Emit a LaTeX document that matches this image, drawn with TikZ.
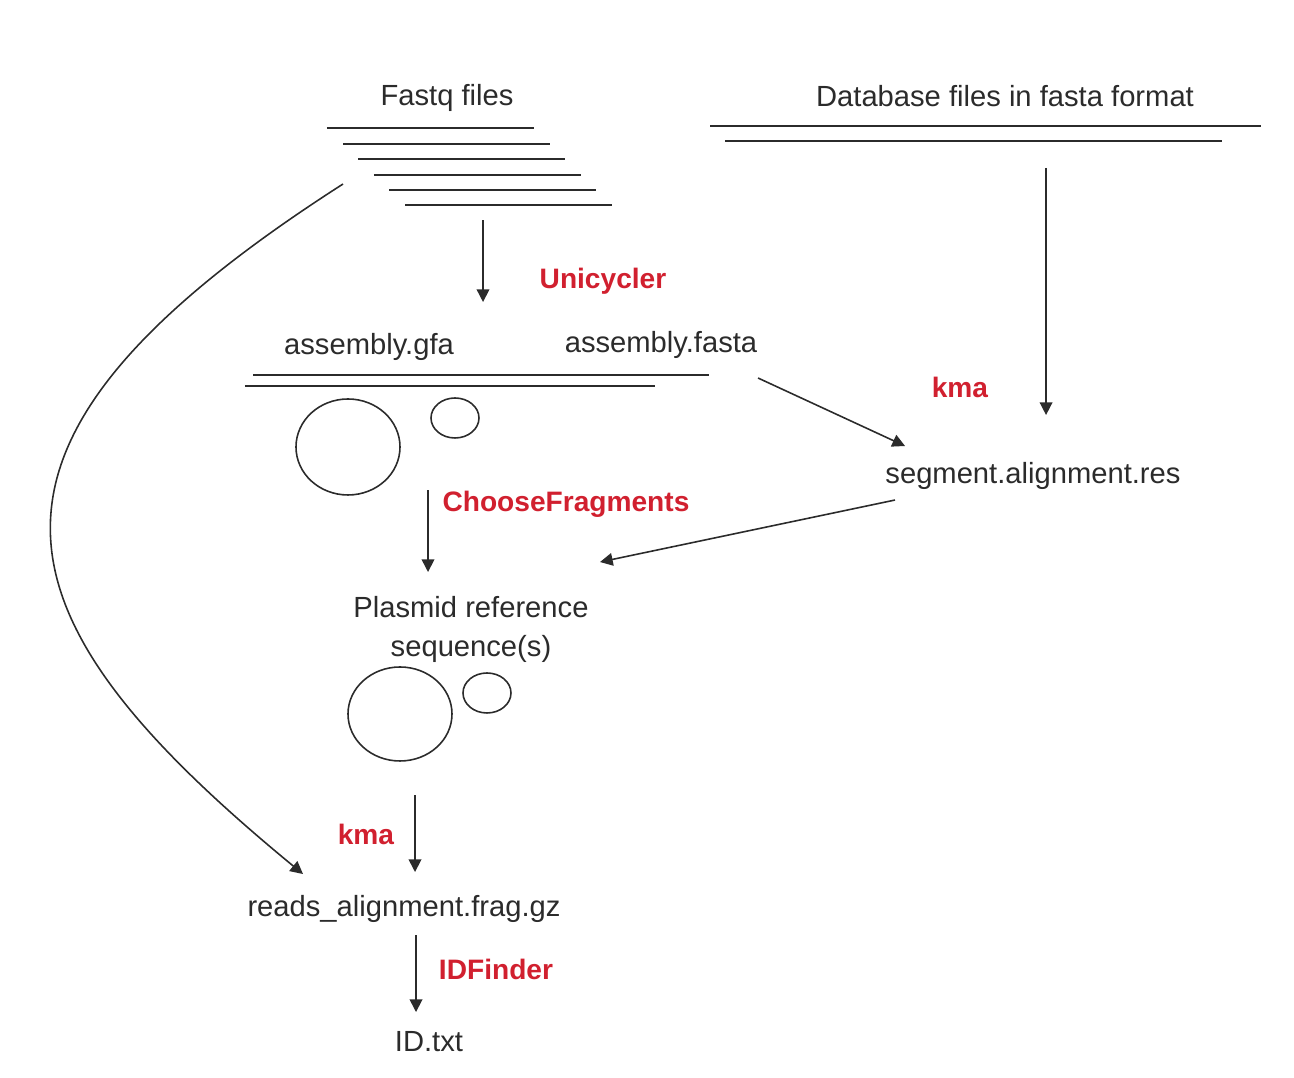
\documentclass[tikz,border=0pt]{standalone}
\usepackage{fontspec}
\setmainfont{Liberation Sans}
\usepackage{xcolor}
\usetikzlibrary{arrows.meta,positioning,calc}
\definecolor{toolred}{HTML}{D1202F}
\definecolor{ink}{HTML}{2B2B2B}

\begin{document}
\begin{tikzpicture}[scale=0.1,
  every node/.style={inner sep=0pt, text=ink},
  file/.style={font=\fontsize{8.3}{11.1}\selectfont},
  tool/.style={font=\fontsize{8}{10}\selectfont\bfseries, text=toolred},
  seq/.style={draw=ink, line width=0.45pt},
  ring/.style={draw=ink, line width=0.45pt},
  arr/.style={draw=ink, line width=0.45pt, -{Triangle[length=3.6pt,width=3.6pt]}}]
\useasboundingbox (0,0) rectangle (129.4,-107.8);

% inputs
\node [file] (fastq) at (44.7,-9.8) {Fastq files};
\foreach \x/\y in {32.7/12.8, 34.3/14.4, 35.8/15.9, 37.4/17.5, 38.9/19.0, 40.5/20.5}
  \draw [seq] (\x,-\y) -- ++(20.7,0);
\node [file] (db) at (100.5,-9.6) {Database files in fasta format};
\draw [seq] (71,-12.6) -- (126.1,-12.6);
\draw [seq] (72.5,-14.1) -- (122.2,-14.1);

% assembly
\node [file] (gfa) at (36.9,-34.7) {assembly.gfa};
\node [file] (fasta) at (66.1,-34.5) {assembly.fasta};
\draw [seq] (25.3,-37.5) -- (70.9,-37.5);
\draw [seq] (24.5,-38.6) -- (65.5,-38.6);
\draw [ring] (34.8,-44.7) ellipse (5.2 and 4.8);
\draw [ring] (45.5,-41.8) ellipse (2.4 and 2.0);

\node [file] (segres) at (103.3,-47.6) {segment.alignment.res};

% plasmids
\node [file, align=center] (plasmid) at (47.1,-62.9) {Plasmid reference\\sequence(s)};
\draw [ring] (40,-71.4) ellipse (5.2 and 4.7);
\draw [ring] (48.7,-69.3) ellipse (2.4 and 2.0);

\node [file] (frag) at (40.4,-90.9) {reads\_alignment.frag.gz};
\node [file] (idtxt) at (42.9,-104.2) {ID.txt};

% tools
\node [tool] (unicycler) at (60.3,-28.1) {Unicycler};
\node [tool] (kmadb) at (96,-38.7) {kma};
\node [tool] (choose) at (56.6,-50.4) {ChooseFragments};
\node [tool] (kmareads) at (36.6,-83.4) {kma};
\node [tool] (idfinder) at (49.6,-96.9) {IDFinder};

% arrow ends
\coordinate (fastq-out) at (48.3,-22);
\coordinate (asm-in) at (48.3,-30.2);
\coordinate (db-out) at (104.6,-16.8);
\coordinate (seg-in) at (104.6,-41.5);
\coordinate (fasta-out) at (75.8,-37.8);
\coordinate (seg-left) at (90.5,-44.6);
\coordinate (seg-out) at (89.5,-50);
\coordinate (plasmid-right) at (60,-56.2);
\coordinate (asm-out) at (42.8,-49);
\coordinate (plasmid-in) at (42.8,-57.2);
\coordinate (plasmid-out) at (41.5,-79.5);
\coordinate (frag-in) at (41.5,-87.2);
\coordinate (frag-out) at (41.6,-93.5);
\coordinate (id-in) at (41.6,-101.2);
\coordinate (reads-out) at (34.3,-18.4);
\coordinate (frag-left) at (30.3,-87.4);

\draw [arr] (fastq-out) -- (asm-in);
\draw [arr] (db-out) -- (seg-in);
\draw [arr] (fasta-out) -- (seg-left);
\draw [arr] (seg-out) -- (plasmid-right);
\draw [arr] (asm-out) -- (plasmid-in);
\draw [arr] (plasmid-out) -- (frag-in);
\draw [arr] (frag-out) -- (id-in);
\draw [arr] (reads-out) .. controls (-6.6,-44.6) and (-1.2,-61.5) .. (frag-left);
\end{tikzpicture}
\end{document}
